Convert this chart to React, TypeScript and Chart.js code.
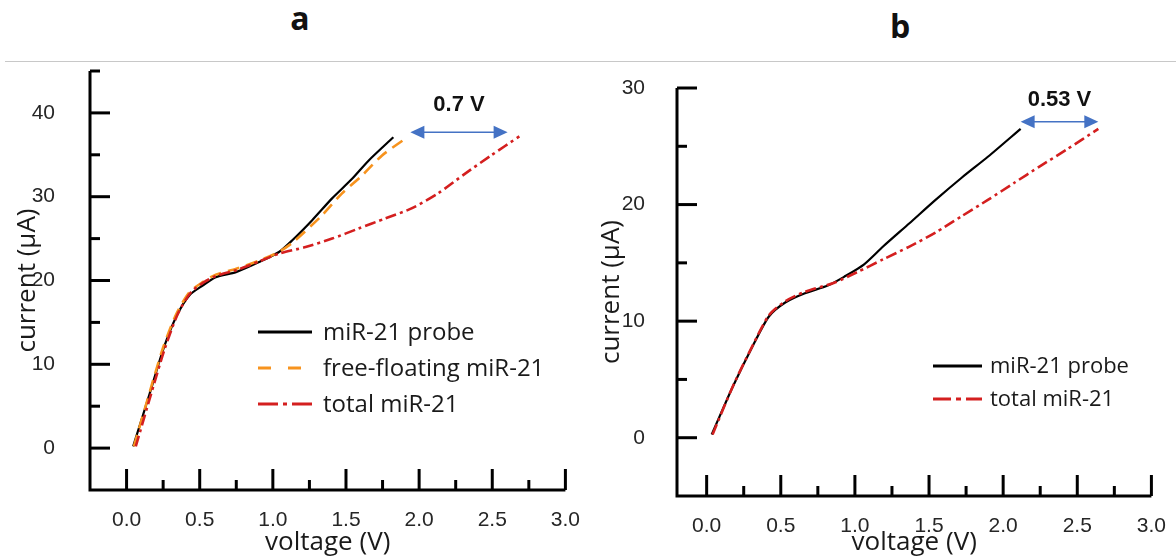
import React, { useEffect, useRef } from "react";
import { Chart, registerables } from "chart.js";

Chart.register(...registerables);

// ---------------- data ----------------
const xTicks = [0, 0.5, 1, 1.5, 2, 2.5, 3];
const xMinorTicks = [0.25, 0.75, 1.25, 1.75, 2.25, 2.75];
const yTicksA = [0, 10, 20, 30, 40];
const yMinorTicksA = [5, 15, 25, 35, 45];
const yTicksB = [0, 10, 20, 30];
const yMinorTicksB = [5, 15, 25];

// panel a
const probeA_V = [0.045, 0.158, 0.249, 0.34, 0.43, 0.52, 0.61, 0.748, 0.906, 1.042, 1.133, 1.269, 1.405, 1.54, 1.654, 1.824];
const probeA_I = [0.2, 6.5, 11.7, 15.7, 18.25, 19.4, 20.4, 21.0, 22.2, 23.4, 24.8, 27.2, 29.8, 32.1, 34.3, 37.1];
const freeA_V = [0.05, 0.16, 0.25, 0.34, 0.43, 0.52, 0.61, 0.75, 0.91, 1.04, 1.14, 1.337, 1.473, 1.608, 1.745, 1.904];
const freeA_I = [0.2, 6.8, 12.0, 16.0, 18.6, 19.8, 20.7, 21.4, 22.4, 23.4, 24.6, 27.8, 30.4, 32.5, 34.9, 36.9];
const totalA_V = [0.063, 0.17, 0.26, 0.35, 0.44, 0.53, 0.62, 0.76, 0.91, 1.042, 1.224, 1.405, 1.586, 1.768, 1.948, 2.13, 2.31, 2.49, 2.685];
const totalA_I = [0.2, 6.6, 11.8, 16.0, 18.6, 19.8, 20.6, 21.3, 22.3, 23.2, 24.0, 25.0, 26.2, 27.4, 28.6, 30.4, 32.7, 34.9, 37.2];
const shiftA_V = [1.94, 2.605];
const shiftA_I = 37.7;
const shiftA_label = "0.7 V";

// panel b
const probeB_V = [0.034, 0.177, 0.31, 0.42, 0.53, 0.663, 0.817, 0.927, 1.06, 1.19, 1.368, 1.544, 1.72, 1.897, 2.118];
const probeB_I = [0.28, 4.4, 7.85, 10.4, 11.6, 12.4, 13.05, 13.8, 14.85, 16.4, 18.4, 20.4, 22.3, 24.1, 26.5];
const totalB_V = [0.04, 0.18, 0.31, 0.42, 0.53, 0.66, 0.861, 1.015, 1.19, 1.368, 1.544, 1.72, 1.897, 2.073, 2.25, 2.426, 2.642];
const totalB_I = [0.28, 4.5, 7.9, 10.5, 11.7, 12.5, 13.3, 14.2, 15.3, 16.4, 17.6, 19.0, 20.4, 21.85, 23.3, 24.7, 26.5];
const shiftB_V = [2.118, 2.642];
const shiftB_I = 27.1;
const shiftB_label = "0.53 V";

const seriesLabels = ["miR-21 probe", "free-floating miR-21", "total miR-21"];

// ---------------- styles ----------------
const BLACK = "#000000";
const ORANGE = "#F7931E";
const RED = "#D41F1F";
const BLUE = "#4472C4";
const TICK_FONT = "'Liberation Sans', Arial, sans-serif";
const TEXT_FONT = "'Open Sans', 'Noto Sans', sans-serif";

const pts = (xs: number[], ys: number[]) => xs.map((x, i) => ({ x, y: ys[i] }));

const decorPlugin = {
  id: "decor",
  afterDraw(chart: any, _args: any, o: any) {
    const { ctx, chartArea: ca } = chart;
    const xs = chart.scales.x;
    const ys = chart.scales.y;
    ctx.save();
    ctx.strokeStyle = "#000";
    ctx.lineWidth = 3;
    ctx.lineJoin = "miter";
    ctx.lineCap = "butt";
    ctx.beginPath();
    ctx.moveTo(ca.left, ca.top);
    ctx.lineTo(ca.left, ca.bottom);
    ctx.lineTo(ca.right, ca.bottom);
    ctx.stroke();
    const hTick = (v: number, len: number) => {
      const p = ys.getPixelForValue(v);
      ctx.beginPath();
      ctx.moveTo(ca.left, p);
      ctx.lineTo(ca.left + len, p);
      ctx.stroke();
    };
    const vTick = (v: number, len: number) => {
      const p = xs.getPixelForValue(v);
      ctx.beginPath();
      ctx.moveTo(p, ca.bottom);
      ctx.lineTo(p, ca.bottom - len);
      ctx.stroke();
    };
    o.yMajor.forEach((v: number) => hTick(v, 20));
    o.yMinor.forEach((v: number) => hTick(v, 10));
    o.xMajor.forEach((v: number) => vTick(v, 21));
    o.xMinor.forEach((v: number) => vTick(v, 10));

    // shift arrow
    const ax1 = xs.getPixelForValue(o.arrow.x[0]);
    const ax2 = xs.getPixelForValue(o.arrow.x[1]);
    const ay = ys.getPixelForValue(o.arrow.y);
    const head = 14;
    const hw = 6.5;
    ctx.strokeStyle = BLUE;
    ctx.fillStyle = BLUE;
    ctx.lineWidth = 1.5;
    ctx.beginPath();
    ctx.moveTo(ax1 + head - 2, ay);
    ctx.lineTo(ax2 - head + 2, ay);
    ctx.stroke();
    ctx.beginPath();
    ctx.moveTo(ax1, ay);
    ctx.lineTo(ax1 + head, ay - hw);
    ctx.lineTo(ax1 + head, ay + hw);
    ctx.closePath();
    ctx.fill();
    ctx.beginPath();
    ctx.moveTo(ax2, ay);
    ctx.lineTo(ax2 - head, ay - hw);
    ctx.lineTo(ax2 - head, ay + hw);
    ctx.closePath();
    ctx.fill();
    ctx.fillStyle = "#111";
    ctx.font = `bold ${o.arrow.fontSize}px ${TICK_FONT}`;
    ctx.textAlign = "center";
    ctx.textBaseline = "middle";
    ctx.fillText(o.arrow.label, (ax1 + ax2) / 2, ay - o.arrow.labelOffset);

    // legend
    const lg = o.legend;
    ctx.font = `${lg.fontSize}px ${TEXT_FONT}`;
    ctx.textAlign = "left";
    ctx.textBaseline = "middle";
    chart.data.datasets.forEach((ds: any, i: number) => {
      const yy = lg.y + i * lg.rowH;
      ctx.save();
      ctx.strokeStyle = ds.borderColor;
      ctx.lineWidth = 3;
      ctx.setLineDash(ds.legendDash || []);
      ctx.beginPath();
      ctx.moveTo(lg.x, yy);
      ctx.lineTo(lg.x + lg.lineLen, yy);
      ctx.stroke();
      ctx.restore();
      ctx.fillStyle = "#1a1a1a";
      ctx.fillText(ds.label, lg.x + lg.lineLen + lg.gap, yy + 1);
    });
    ctx.restore();
  },
};

function buildConfig(p: any): any {
  return {
    type: "line",
    data: { datasets: p.datasets },
    options: {
      responsive: false,
      animation: false,
      devicePixelRatio: 1,
      layout: { padding: p.padding },
      elements: { point: { radius: 0 }, line: { tension: 0.25, fill: false } },
      plugins: {
        legend: { display: false },
        tooltip: { enabled: false },
        decor: p.decor,
      },
      scales: {
        x: {
          type: "linear",
          min: p.xMin,
          max: 3,
          afterBuildTicks: (s: any) => {
            s.ticks = xTicks.map((v) => ({ value: v }));
          },
          afterFit: (s: any) => {
            s.height = p.xAxisH;
          },
          grid: { display: false },
          border: { display: false },
          ticks: {
            autoSkip: false,
            maxRotation: 0,
            padding: p.xTickPad,
            color: "#262626",
            font: { family: TICK_FONT, size: 21 },
            callback: (v: any) => Number(v).toFixed(1),
          },
          title: {
            display: true,
            text: "voltage (V)",
            color: "#1a1a1a",
            font: { family: TEXT_FONT, size: 26, lineHeight: 1.0 },
            padding: { top: 0, bottom: 0 },
          },
        },
        y: {
          type: "linear",
          min: -5,
          max: p.yMax,
          afterBuildTicks: (s: any) => {
            s.ticks = p.yTicks.map((v: number) => ({ value: v }));
          },
          afterFit: (s: any) => {
            s.width = p.yAxisW;
          },
          grid: { display: false },
          border: { display: false },
          ticks: {
            padding: p.yTickPad,
            color: "#262626",
            font: { family: TICK_FONT, size: 21 },
            callback: (v: any) => String(v),
          },
          title: {
            display: true,
            text: "current (\u00B5A)",
            color: "#1a1a1a",
            font: { family: TEXT_FONT, size: 26, lineHeight: 1.2 },
            padding: { top: p.yTitlePad, bottom: 0 },
          },
        },
      },
    },
    plugins: [decorPlugin],
  };
}

const panelA = {
  xMin: -0.25,
  yMax: 45,
  yTicks: yTicksA,
  padding: { left: 0, top: 71, right: 22, bottom: 0 },
  xAxisH: 556 - 490,
  yAxisW: 90,
  xTickPad: 10,
  yTickPad: 27,
  yTitlePad: 12,
  datasets: [
    { label: seriesLabels[0], data: pts(probeA_V, probeA_I), borderColor: BLACK, borderWidth: 2.2, order: 3, legendDash: [] },
    { label: seriesLabels[1], data: pts(freeA_V, freeA_I), borderColor: ORANGE, borderWidth: 2.6, borderDash: [12, 7], order: 2, legendDash: [13, 17] },
    { label: seriesLabels[2], data: pts(totalA_V, totalA_I), borderColor: RED, borderWidth: 2.6, borderDash: [11, 4, 3, 4], order: 1, legendDash: [20, 5, 4, 5] },
  ],
  decor: {
    xMajor: xTicks,
    xMinor: xMinorTicks,
    yMajor: yTicksA,
    yMinor: yMinorTicksA,
    arrow: { x: shiftA_V, y: shiftA_I, label: shiftA_label, labelOffset: 27, fontSize: 22 },
    legend: { x: 258, y: 332, lineLen: 54, gap: 11, rowH: 36, fontSize: 24 },
  },
};

const panelB = {
  xMin: -0.2,
  yMax: 30,
  yTicks: yTicksB,
  padding: { left: 0, top: 88, right: 16, bottom: 0 },
  xAxisH: 556 - 496,
  yAxisW: 87,
  xTickPad: 10,
  yTickPad: 24,
  yTitlePad: 6,
  datasets: [
    { label: seriesLabels[0], data: pts(probeB_V, probeB_I), borderColor: BLACK, borderWidth: 2.2, order: 2, legendDash: [] },
    { label: seriesLabels[2], data: pts(totalB_V, totalB_I), borderColor: RED, borderWidth: 2.6, borderDash: [11, 4, 3, 4], order: 1, legendDash: [18, 5, 5, 5] },
  ],
  decor: {
    xMajor: xTicks,
    xMinor: xMinorTicks,
    yMajor: yTicksB,
    yMinor: yMinorTicksB,
    arrow: { x: shiftB_V, y: shiftB_I, label: shiftB_label, labelOffset: 22, fontSize: 22 },
    legend: { x: 933 - 590, y: 366, lineLen: 49, gap: 8, rowH: 33, fontSize: 22 },
  },
};

export default function App() {
  const refA = useRef<HTMLCanvasElement>(null);
  const refB = useRef<HTMLCanvasElement>(null);
  useEffect(() => {
    const a = new Chart(refA.current as HTMLCanvasElement, buildConfig(panelA));
    const b = new Chart(refB.current as HTMLCanvasElement, buildConfig(panelB));
    return () => {
      a.destroy();
      b.destroy();
    };
  }, []);
  const titleStyle: any = {
    position: "absolute",
    width: 60,
    textAlign: "center",
    fontFamily: TEXT_FONT,
    fontWeight: 700,
    fontSize: 32,
    lineHeight: "32px",
    color: "#111",
  };
  return (
    <div style={{ position: "absolute", left: 0, top: 0, width: 1176, height: 556, background: "#fff", overflow: "hidden" }}>
      <div style={{ position: "absolute", left: 5, right: 0, top: 61, height: 0, borderTop: "1.5px solid #c8c8c8" }} />
      <div style={{ ...titleStyle, left: 300 - 30, top: 2 }}>a</div>
      <div style={{ ...titleStyle, left: 900 - 30, top: 10 }}>b</div>
      <canvas ref={refA} width={590} height={556} style={{ position: "absolute", left: 0, top: 0, width: 590, height: 556 }} />
      <canvas ref={refB} width={586} height={556} style={{ position: "absolute", left: 590, top: 0, width: 586, height: 556 }} />
    </div>
  );
}
